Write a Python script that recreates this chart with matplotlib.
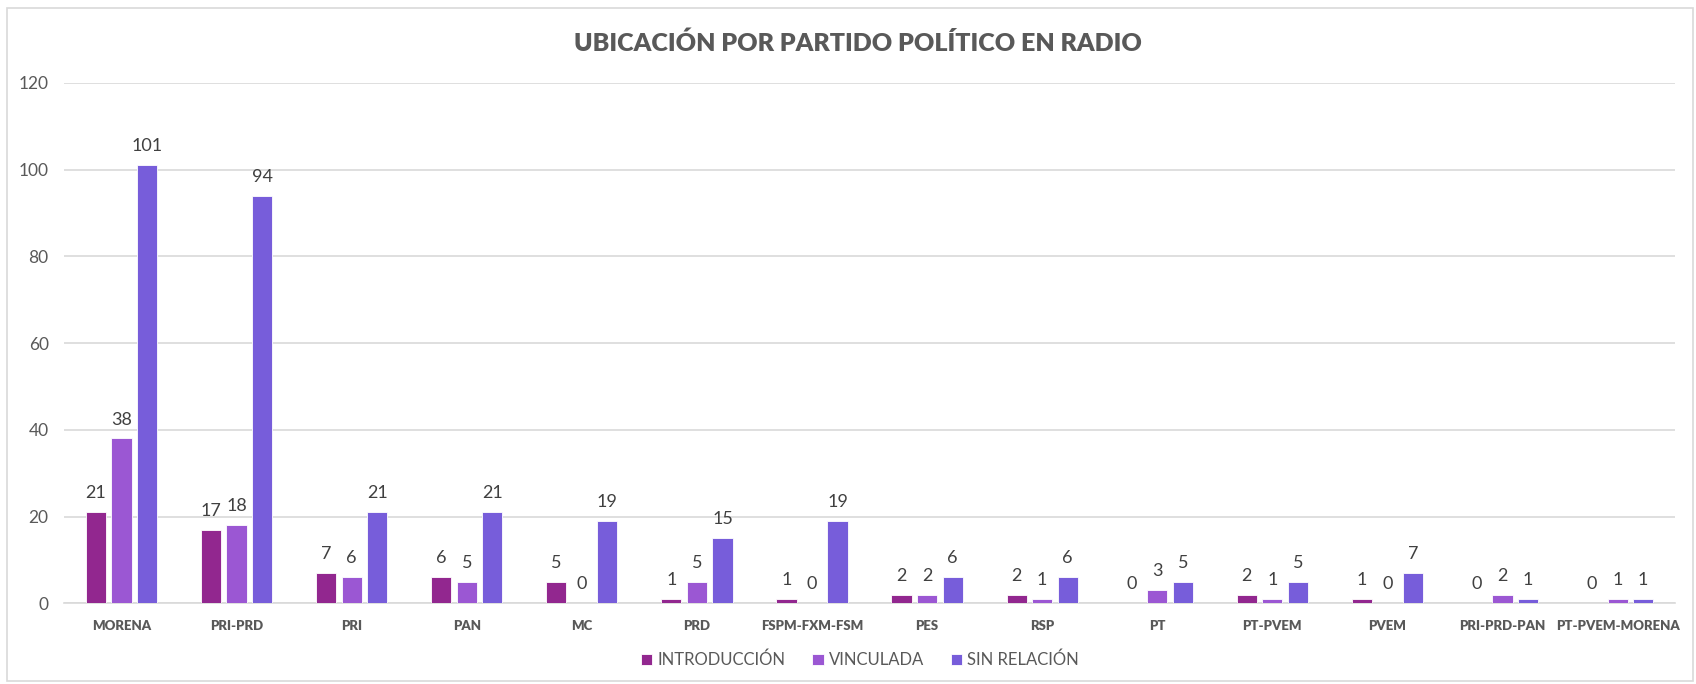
import numpy as np
import matplotlib
matplotlib.use('Agg')
import matplotlib.pyplot as plt
from matplotlib.patches import Rectangle

plt.rcParams['font.family'] = ['Lato', 'DejaVu Sans']

partidos = ['MORENA', 'PRI-PRD', 'PRI', 'PAN', 'MC', 'PRD', 'FSPM-FXM-FSM',
            'PES', 'RSP', 'PT', 'PT-PVEM', 'PVEM', 'PRI-PRD-PAN', 'PT-PVEM-MORENA']
introduccion = [21, 17, 7, 6, 5, 1, 1, 2, 2, 0, 2, 1, 0, 0]
vinculada = [38, 18, 6, 5, 0, 5, 0, 2, 1, 3, 1, 0, 2, 1]
sin_relacion = [101, 94, 21, 21, 19, 15, 19, 6, 6, 5, 5, 7, 1, 1]

series = [('INTRODUCCIÓN', introduccion, '#92278f'),
          ('VINCULADA', vinculada, '#9b57d3'),
          ('SIN RELACIÓN', sin_relacion, '#775dda')]

fig = plt.figure(figsize=(16.96, 6.84), dpi=100)
ax = fig.add_axes([0.0377, 0.118, 0.950, 0.761])

x = np.arange(len(partidos))
w = 0.175
step = 0.222
for i, (nombre, vals, color) in enumerate(series):
    pos = x + (i - 1) * step
    ax.bar(pos, vals, width=w, color=color, label=nombre,
           edgecolor='white', linewidth=0.6, zorder=3)
    for xp, v in zip(pos, vals):
        ax.text(xp, v + 2.5, str(v), ha='center', va='bottom',
                fontsize=13, color='#404040')

ax.set_xlim(-0.5, len(partidos) - 0.5)
ax.set_ylim(0, 120)
ax.set_yticks(range(0, 121, 20))
ax.grid(axis='y', color='#d9d9d9', linewidth=1.2, zorder=0)
ax.set_xticks(x)
ax.set_xticklabels(partidos, fontsize=9.5, fontweight='heavy', color='#595959')
ax.tick_params(axis='y', labelsize=12.5, labelcolor='#595959', length=0, pad=11)
ax.tick_params(axis='x', length=0, pad=12)
for s in ['top', 'right', 'left']:
    ax.spines[s].set_visible(False)
ax.spines['bottom'].set_color('#d9d9d9')
ax.spines['bottom'].set_linewidth(1.2)

fig.text(0.506, 0.937, 'UBICACIÓN POR PARTIDO POLÍTICO EN RADIO', fontsize=18,
         fontweight='heavy', color='#595959', ha='center', va='center')

fig.legend(loc='center', bbox_to_anchor=(0.507, 0.035), ncol=3, frameon=False,
           fontsize=12, handlelength=0.7, handleheight=0.7, handletextpad=0.3,
           columnspacing=1.6, labelcolor='#595959')

fig.patches.append(Rectangle((0.004, 0.004), 0.994, 0.984, transform=fig.transFigure,
                             fill=False, edgecolor='#d9d9d9', linewidth=1.2))

fig.savefig('out.png', dpi=100)
